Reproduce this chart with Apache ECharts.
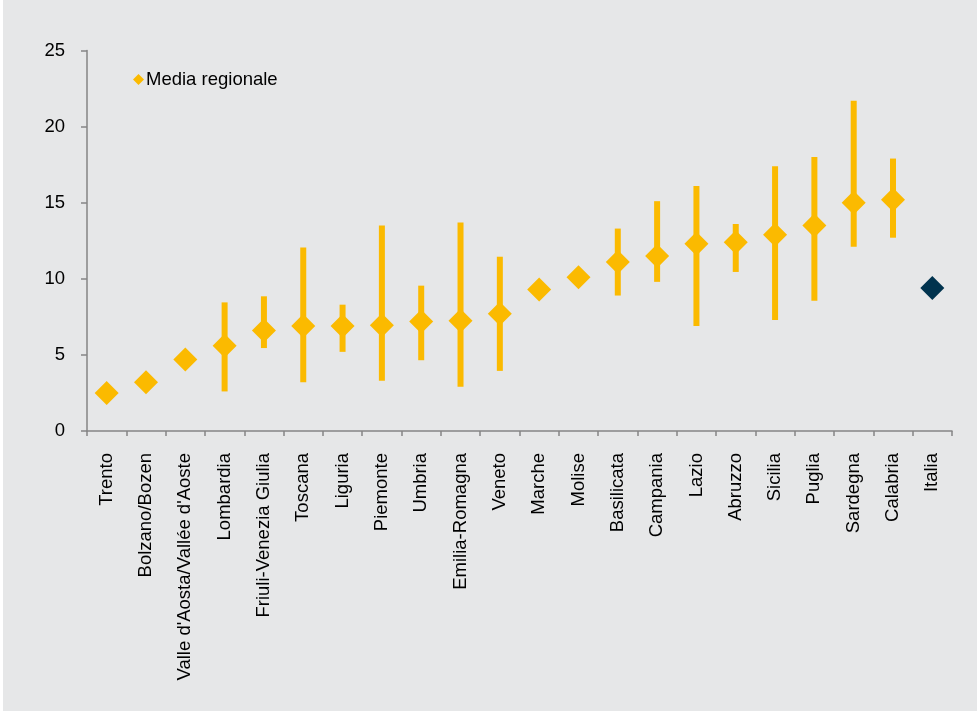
<!DOCTYPE html>
<html>
<head>
<meta charset="utf-8">
<script src="https://cdn.jsdelivr.net/npm/echarts@6/dist/echarts.min.js"></script>
<style>
html,body{margin:0;padding:0;background:#ffffff;}
#c{position:absolute;left:3px;top:0;width:974px;height:711px;background:#e6e7e8;}
</style>
</head>
<body>
<div id="c"></div>
<script>
const categories = ["Trento","Bolzano/Bozen","Valle d'Aosta/Vallée d'Aoste","Lombardia","Friuli-Venezia Giulia","Toscana","Liguria","Piemonte","Umbria","Emilia-Romagna","Veneto","Marche","Molise","Basilicata","Campania","Lazio","Abruzzo","Sicilia","Puglia","Sardegna","Calabria","Italia"];
const mediaRegionale = [2.5,3.2,4.7,5.6,6.6,6.9,6.9,6.95,7.2,7.25,7.7,9.3,10.1,11.1,11.5,12.3,12.4,12.9,13.5,15.0,15.2,9.4];
const rangeLow  = [null,null,null,2.6,5.45,3.2,5.2,3.3,4.65,2.9,3.95,null,null,8.9,9.8,6.9,10.45,7.3,8.55,12.1,12.7,null];
const rangeHigh = [null,null,null,8.45,8.85,12.05,8.3,13.5,9.55,13.7,11.45,null,null,13.3,15.1,16.1,13.6,17.4,18.0,21.7,17.9,null];
const yTicks = {min:0,max:25,interval:5};

const yellow = '#fbba00';
const navy = '#00334e';
const font = 'Liberation Sans, Arial, sans-serif';
const fs = 18.5;

const rangeData = [];
categories.forEach((c,i)=>{ if(rangeLow[i]!=null) rangeData.push([i, rangeLow[i], rangeHigh[i]]); });

const meanData = mediaRegionale.map((v,i)=> categories[i]==='Italia'
  ? {value:v, itemStyle:{color:navy}}
  : v);

const chart = echarts.init(document.getElementById('c'), null, {renderer:'canvas'});
chart.setOption({
  backgroundColor:'#e6e7e8',
  animation:false,
  textStyle:{fontFamily:font},
  grid:{left:84,right:25,top:50.5,bottom:280},
  legend:{
    data:[{name:'Media regionale',icon:'diamond'}],
    left:125, top:65,
    itemWidth:11,itemHeight:11,itemGap:4,
    textStyle:{fontSize:fs,color:'#000',fontFamily:font,padding:[0,0,0,-3]}
  },
  xAxis:{
    type:'category',
    data:categories,
    boundaryGap:true,
    axisLine:{lineStyle:{color:'#858585',width:1.5}},
    axisTick:{show:true,alignWithLabel:false,length:5,lineStyle:{color:'#858585',width:1.5}},
    axisLabel:{rotate:90,interval:0,margin:22,fontSize:fs,color:'#000',fontFamily:font}
  },
  yAxis:{
    type:'value',
    min:yTicks.min,max:yTicks.max,interval:yTicks.interval,
    splitLine:{show:false},
    axisLine:{show:true,lineStyle:{color:'#858585',width:1.5}},
    axisTick:{show:true,length:6,lineStyle:{color:'#858585',width:1.5}},
    axisLabel:{margin:22,fontSize:fs,color:'#000',fontFamily:font}
  },
  series:[
    {
      name:'range',
      type:'custom',
      data:rangeData,
      encode:{x:0,y:[1,2]},
      z:2,
      renderItem:function(params,api){
        const x = api.value(0);
        const p1 = api.coord([x, api.value(1)]);
        const p2 = api.coord([x, api.value(2)]);
        const w = 6;
        return {type:'rect',shape:{x:p1[0]-w/2,y:p2[1],width:w,height:p1[1]-p2[1]},style:{fill:yellow}};
      }
    },
    {
      name:'Media regionale',
      type:'scatter',
      data:meanData,
      symbol:'diamond',
      symbolSize:[24,24],
      itemStyle:{color:yellow,opacity:1},
      z:3
    }
  ]
});
</script>
</body>
</html>
